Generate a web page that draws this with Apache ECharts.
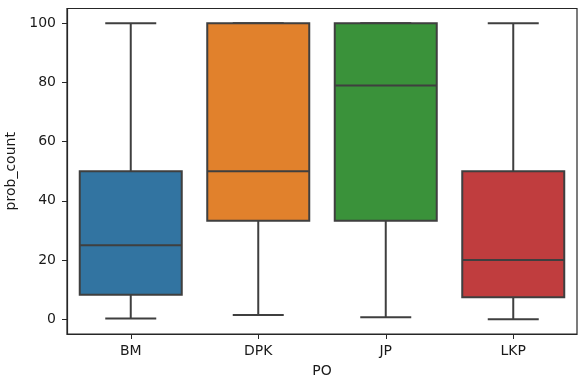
<!DOCTYPE html>
<html>
<head>
<meta charset="utf-8">
<script src="https://cdn.jsdelivr.net/npm/echarts@6/dist/echarts.min.js"></script>
<style>html,body{margin:0;padding:0;background:#fff}#c{width:578px;height:378px}</style>
</head>
<body>
<div id="c"></div>
<script>
const categories = ['BM', 'DPK', 'JP', 'LKP'];
const mins    = [0.2, 1.4, 0.7, 0];
const q1s     = [8.3, 33.3, 33.3, 7.4];
const medians = [25, 50, 79, 20];
const q3s     = [50, 100, 100, 50];
const maxs    = [100, 100, 100, 100];
const yTicks  = [0, 20, 40, 60, 80, 100];
const colors  = ['#3274a1', '#e1812c', '#3a923a', '#c03d3e'];

const data = categories.map((c, i) => [i, mins[i], q1s[i], medians[i], q3s[i], maxs[i]]);
const LINE = '#3f3f3f';
const FONT = 'DejaVu Sans';
const TXT = '#1a1a1a';

function renderItem(params, api) {
  const i = api.value(0);
  const band = api.size([1, 0])[0];
  const boxW = band * 0.8;
  const capW = boxW / 2;
  const cx = api.coord([i, 0])[0];
  const y = k => api.coord([i, api.value(k)])[1];
  const yMin = y(1), yQ1 = y(2), yMed = y(3), yQ3 = y(4), yMax = y(5);
  const ls = { stroke: LINE, lineWidth: 2 };
  return {
    type: 'group',
    children: [
      { type: 'line', shape: { x1: cx, y1: yQ1, x2: cx, y2: yMin }, style: ls },
      { type: 'line', shape: { x1: cx, y1: yQ3, x2: cx, y2: yMax }, style: ls },
      { type: 'line', shape: { x1: cx - capW / 2, y1: yMin, x2: cx + capW / 2, y2: yMin }, style: ls },
      { type: 'line', shape: { x1: cx - capW / 2, y1: yMax, x2: cx + capW / 2, y2: yMax }, style: ls },
      { type: 'rect', shape: { x: cx - boxW / 2, y: yQ3, width: boxW, height: yQ1 - yQ3 },
        style: { fill: colors[i], stroke: LINE, lineWidth: 2 } },
      { type: 'line', shape: { x1: cx - boxW / 2, y1: yMed, x2: cx + boxW / 2, y2: yMed }, style: ls }
    ]
  };
}

const chart = echarts.init(document.getElementById('c'), null, { renderer: 'canvas' });
chart.setOption({
  animation: false,
  backgroundColor: '#fff',
  grid: { left: 67, right: 1, top: 8.5, bottom: 44, containLabel: false, outerBoundsMode: 'none',
          show: true, borderColor: '#262626', borderWidth: 1.2, backgroundColor: 'transparent' },
  xAxis: {
    type: 'category',
    data: categories,
    name: 'PO',
    nameLocation: 'middle',
    nameGap: 30,
    nameTextStyle: { fontFamily: FONT, fontSize: 14, color: TXT },
    axisLine: { show: true, onZero: false, lineStyle: { color: '#262626', width: 1.2 } },
    axisTick: { show: true, alignWithLabel: true, length: 5, lineStyle: { color: '#262626' } },
    axisLabel: { fontFamily: FONT, fontSize: 14, color: TXT, margin: 10 },
    splitLine: { show: false }
  },
  yAxis: {
    type: 'value',
    min: -5,
    max: 105,
    name: 'prob_count',
    nameLocation: 'middle',
    nameGap: 45,
    nameTextStyle: { fontFamily: FONT, fontSize: 14, color: TXT },
    axisLine: { show: true, onZero: false, lineStyle: { color: '#262626', width: 1.2 } },
    axisTick: { show: true, length: 5, lineStyle: { color: '#262626' }, customValues: yTicks },
    axisLabel: { fontFamily: FONT, fontSize: 14, color: TXT, margin: 11, customValues: yTicks },
    splitLine: { show: false }
  },
  series: [{
    type: 'custom',
    renderItem: renderItem,
    data: data,
    encode: { x: 0, y: [1, 2, 3, 4, 5] }
  }]
});
</script>
</body>
</html>
